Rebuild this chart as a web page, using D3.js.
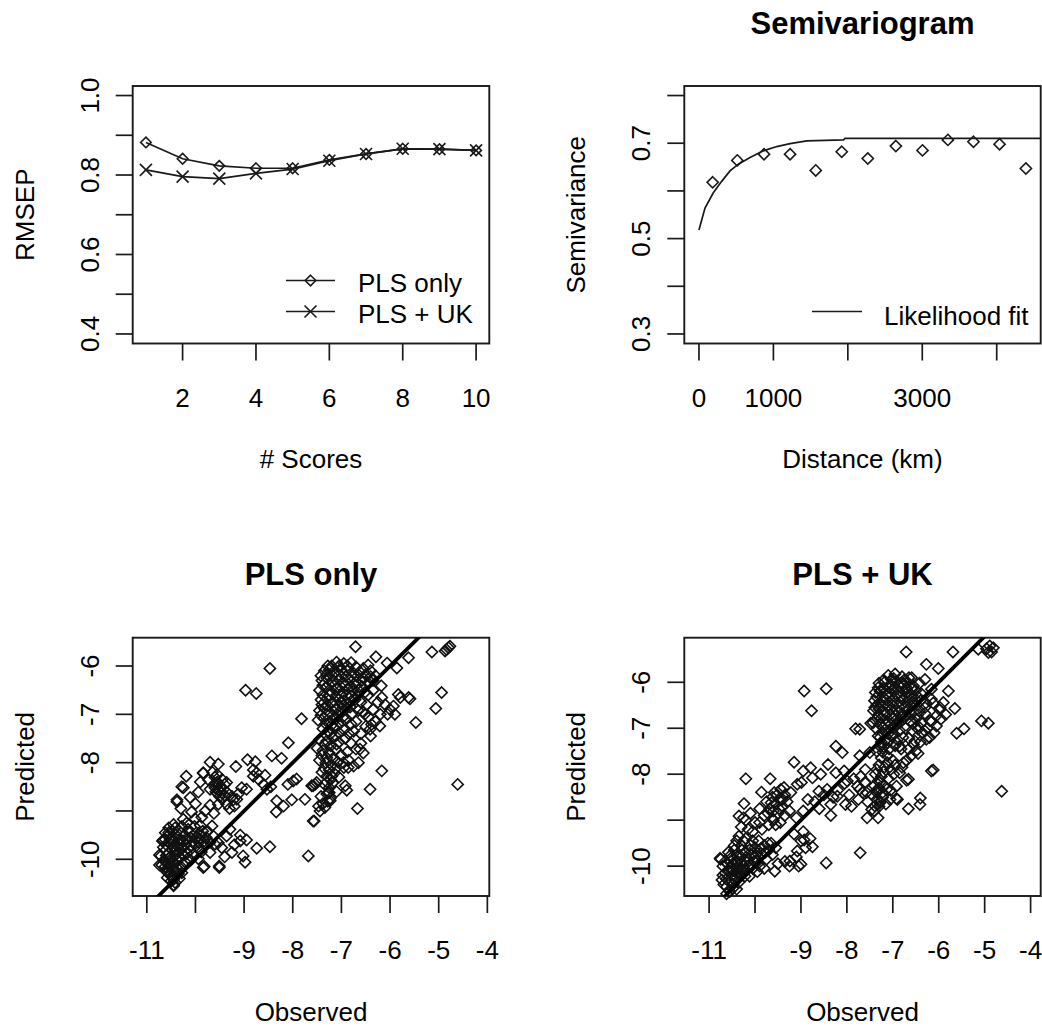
<!DOCTYPE html>
<html><head><meta charset="utf-8">
<script src="https://cdn.jsdelivr.net/npm/d3@7"></script>
<style>
html,body{margin:0;padding:0;background:#fff;}
svg{display:block;}
text{font-family:"Liberation Sans", Arial, sans-serif; fill:#000;}
</style></head><body>
<svg id="chart" width="1042" height="1027"></svg>
<script>
// ---------------- DATA ----------------
// Panel 1: RMSEP vs number of PLS scores
const scoreCount = [1,2,3,4,5,6,7,8,9,10];
const rmsepPlsOnly = [0.882,0.841,0.823,0.817,0.817,0.838,0.853,0.866,0.865,0.862];
const rmsepPlsUK   = [0.813,0.796,0.791,0.804,0.815,0.836,0.853,0.866,0.865,0.862];
const p1XTicks = [2,4,6,8,10];
const p1XTickLabels = ["2","4","6","8","10"];
const p1YTicks = [0.4,0.5,0.6,0.7,0.8,0.9,1.0];
const p1YTickLabels = ["0.4","","0.6","","0.8","","1.0"];
const p1Legend = ["PLS only","PLS + UK"];

// Panel 2: empirical semivariogram + likelihood fit
const semiDistance = [184,515,874,1224,1569,1918,2268,2645,3003,3344,3688,4038,4392];
const semiGamma    = [0.618,0.664,0.677,0.677,0.643,0.682,0.668,0.694,0.685,0.707,0.703,0.698,0.647];
const fitDistance  = [0,81,193,305,417,529,686,865,1045,1224,1448,1941,1963,4591];
const fitGamma     = [0.518,0.564,0.596,0.620,0.642,0.656,0.670,0.684,0.693,0.699,0.705,0.707,0.710,0.710];
const p2XTicks = [0,1000,2000,3000,4000];
const p2XTickLabels = ["0","1000","","3000",""];
const p2YTicks = [0.3,0.4,0.5,0.6,0.7,0.8];
const p2YTickLabels = ["0.3","","0.5","","0.7",""];
const p2Legend = ["Likelihood fit"];

// Panels 3 & 4: observed vs predicted
const obsTicks = [-11,-10,-9,-8,-7,-6,-5,-4];
const obsTickLabels = ["-11","","-9","-8","-7","-6","-5","-4"];
const predTicks = [-10,-9,-8,-7,-6];
const predTickLabels = ["-10","","-8","-7","-6"];

const plsOnlyPoints = [
[-10.45,-9.28],[-10.62,-9.59],[-10.71,-9.93],[-10.69,-10.12],[-10.60,-10.24],[-10.45,-10.55],[-10.33,-10.40],[-10.25,-9.17],[-10.08,-9.02],[-10.01,-9.16],[-9.87,-9.13],[-9.66,-9.31],[-9.63,-9.52],[-9.53,-9.66],[-9.70,-9.86],[-9.82,-10.15],[-9.51,-10.14],[-9.94,-9.99],
[-10.55,-9.45],[-10.50,-9.55],[-10.40,-9.50],[-10.35,-9.40],[-10.60,-9.70],[-10.52,-9.68],[-10.45,-9.62],[-10.38,-9.72],[-10.30,-9.60],[-10.22,-9.50],[-10.15,-9.38],[-10.10,-9.55],[-10.05,-9.65],[-9.98,-9.45],[-9.92,-9.58],[-9.85,-9.42],[-9.78,-9.55],[-10.62,-9.82],[-10.55,-9.88],[-10.48,-9.80],[-10.42,-9.92],[-10.35,-9.85],[-10.28,-9.78],[-10.20,-9.70],[-10.12,-9.82],[-10.05,-9.90],[-9.95,-9.75],[-9.88,-9.85],[-10.65,-10.02],[-10.58,-10.08],[-10.50,-10.00],[-10.43,-10.10],[-10.36,-10.02],[-10.30,-10.15],[-10.22,-10.05],[-10.15,-9.98],[-10.55,-10.25],[-10.48,-10.35],[-10.40,-10.25],[-10.35,-10.30],[-10.50,-10.45],[-10.42,-10.48],[-10.58,-10.38],[-10.66,-9.75],[-10.68,-9.62],[-10.57,-9.52],[-10.47,-9.42],[-10.28,-9.32],[-10.18,-9.25],[-10.02,-9.32],[-9.90,-9.30],[-9.75,-9.42],[-9.70,-9.65],[-9.80,-9.70],[-10.74,-9.91],[-10.74,-10.12],[-10.59,-10.26],[-10.45,-10.53],[-10.66,-9.60],
[-10.52,-9.60],[-10.45,-9.72],[-10.40,-9.82],[-10.32,-9.70],[-10.25,-9.62],[-10.18,-9.58],[-10.08,-9.72],[-10.00,-9.68],[-9.93,-9.65],[-10.60,-9.92],[-10.52,-9.96],[-10.46,-10.05],[-10.40,-10.00],[-10.32,-9.95],[-10.25,-9.90],[-10.18,-9.88],[-10.10,-10.02],[-10.62,-10.15],[-10.53,-10.15],[-10.45,-10.22],[-10.38,-10.18],[-10.28,-10.28],[-10.52,-10.32],[-10.45,-10.42],[-10.62,-9.45],[-10.55,-9.35],[-10.42,-9.35],[-10.35,-9.60],[-10.12,-9.45],[-9.98,-9.55],[-9.88,-9.50],[-9.82,-9.62],
[-9.08,-9.50],[-9.08,-9.62],[-8.95,-9.60],[-8.74,-9.77],[-8.47,-9.74],[-9.25,-9.86],[-9.02,-9.93],[-8.98,-10.06],[-9.29,-9.38],[-9.36,-9.52],[-9.46,-9.76],[-9.60,-9.69],[-9.40,-9.95],[-9.20,-9.70],[-9.84,-10.17],[-9.51,-10.17],
[-10.19,-8.28],[-9.84,-8.21],[-10.25,-8.52],[-10.38,-8.77],[-10.11,-8.72],[-9.94,-8.61],[-9.70,-8.55],[-9.53,-8.45],[-9.36,-8.41],[-9.46,-8.62],[-9.53,-8.86],[-9.70,-8.88],[-9.36,-8.86],[-9.15,-8.76],[-9.05,-8.52],[-8.95,-8.55],[-9.12,-8.65],[-9.70,-7.99],[-9.53,-8.03],[-9.17,-8.08],[-8.93,-7.94],[-8.81,-8.28],[-8.74,-8.21],[-8.57,-8.26],[-8.53,-8.55],[-8.60,-8.45],[-9.60,-8.30],[-9.55,-8.40],[-9.48,-8.50],[-9.62,-8.45],[-9.42,-8.55],[-9.50,-8.70],[-9.58,-8.60],[-9.65,-8.20],[-9.45,-8.35],[-9.40,-8.68],[-9.25,-8.70],[-9.20,-8.90],[-9.30,-8.95],[-9.62,-9.05],[-9.80,-9.00],[-10.00,-8.85],[-10.30,-8.95],[-9.90,-8.40],[-8.77,-7.98],[-8.81,-8.15],[-9.84,-8.22],[-9.73,-8.36],[-9.49,-8.50],[-9.56,-8.63],[-9.22,-8.77],[-10.28,-8.50],[-10.38,-8.81],
[-9.55,-8.25],[-9.50,-8.60],[-9.40,-8.45],[-9.60,-8.52],[-9.35,-8.62],[-9.45,-8.75],
[-8.33,-8.79],[-8.19,-8.90],[-8.02,-8.77],[-7.99,-8.38],[-7.92,-8.34],[-8.34,-9.02],[-7.61,-8.48],[-7.54,-8.45],[-7.75,-8.76],[-7.58,-9.21],[-7.47,-8.90],[-8.43,-7.86],[-8.23,-7.91],[-8.09,-7.59],[-7.82,-7.09],[-8.47,-6.05],[-8.97,-6.50],[-8.75,-6.57],[-7.68,-9.93],[-8.70,-8.35],[-8.45,-8.50],[-8.10,-8.45],
[-6.71,-5.60],[-6.29,-5.81],[-6.06,-5.94],[-5.86,-6.04],[-5.62,-5.83],[-5.14,-5.71],[-4.87,-5.69],[-4.84,-5.66],[-4.80,-5.62],[-4.77,-5.59],[-4.94,-6.55],[-5.06,-6.88],[-5.47,-7.17],[-4.61,-8.45],[-6.17,-8.17],[-6.41,-8.55],[-6.67,-8.95],[-6.92,-8.48],[-6.89,-8.57],[-7.56,-9.21],[-7.44,-9.00],[-7.34,-8.93],[-7.23,-8.79],[-6.18,-6.41],[-6.17,-6.65],[-5.83,-6.59],[-5.79,-6.65],[-5.62,-6.65],[-5.59,-6.68],[-5.93,-6.83],[-6.00,-6.90],[-5.90,-7.00],[-6.21,-7.24],[-6.41,-7.31],[-6.38,-7.21],[-6.62,-7.72],[-6.65,-8.00],[-6.86,-8.10],[-6.96,-8.00],[-6.75,-8.07],[-7.58,-8.48],[-7.51,-8.41],[-7.27,-8.63],[-7.23,-8.74],
[-7.10,-5.92],[-6.95,-5.95],[-6.80,-5.93],[-7.20,-6.00],[-6.70,-6.02],
[-7.35,-6.10],[-7.25,-6.08],[-7.12,-6.12],[-7.00,-6.08],[-6.88,-6.10],[-6.75,-6.15],[-6.62,-6.12],[-6.50,-6.18],[-6.40,-6.22],
[-7.40,-6.30],[-7.30,-6.25],[-7.18,-6.32],[-7.05,-6.28],[-6.95,-6.35],[-6.82,-6.28],[-6.70,-6.33],[-6.58,-6.30],[-6.45,-6.35],[-6.35,-6.30],
[-7.45,-6.50],[-7.32,-6.45],[-7.22,-6.52],[-7.10,-6.48],[-6.98,-6.55],[-6.88,-6.48],[-6.76,-6.52],[-6.65,-6.50],[-6.52,-6.55],
[-7.42,-6.70],[-7.30,-6.68],[-7.18,-6.75],[-7.06,-6.70],[-6.95,-6.72],[-6.85,-6.78],[-6.72,-6.70],[-6.60,-6.75],[-6.48,-6.80],
[-7.45,-6.92],[-7.35,-6.88],[-7.25,-6.95],[-7.12,-6.90],[-7.00,-6.95],[-6.90,-6.88],[-6.78,-6.98],[-6.65,-6.92],[-6.52,-7.00],
[-7.48,-7.12],[-7.36,-7.08],[-7.24,-7.15],[-7.12,-7.10],[-7.02,-7.18],[-6.92,-7.12],[-6.80,-7.20],[-6.70,-7.15],
[-7.38,-7.30],[-7.28,-7.35],[-7.15,-7.28],[-7.05,-7.38],[-6.95,-7.32],[-6.85,-7.40],[-6.75,-7.35],
[-7.45,-7.52],[-7.30,-7.55],[-7.18,-7.48],[-7.05,-7.58],[-6.92,-7.50],[-6.80,-7.60],
[-7.28,-6.00],[-7.05,-6.00],[-6.88,-6.00],[-7.42,-6.20],[-7.30,-6.18],[-7.18,-6.20],[-7.05,-6.18],[-6.92,-6.22],[-6.80,-6.20],[-6.68,-6.22],[-6.55,-6.25],[-7.38,-6.40],[-7.26,-6.38],[-7.15,-6.40],[-7.02,-6.42],[-6.92,-6.40],[-6.80,-6.42],[-6.70,-6.40],[-6.58,-6.42],[-7.38,-6.60],[-7.25,-6.60],[-7.12,-6.62],[-7.00,-6.62],[-6.90,-6.60],[-6.80,-6.62],[-6.68,-6.62],[-7.40,-6.80],[-7.28,-6.82],[-7.15,-6.82],[-7.05,-6.82],[-6.95,-6.82],[-6.82,-6.85],[-7.42,-7.02],[-7.30,-7.00],[-7.18,-7.02],[-7.06,-7.02],[-6.96,-7.05],[-7.32,-7.20],[-7.20,-7.22],[-7.10,-7.25],[-7.32,-7.42],[-7.22,-7.40],[-7.12,-7.45],
[-7.50,-7.70],[-7.38,-7.75],[-7.25,-7.80],[-7.12,-7.72],[-7.00,-7.85],[-6.88,-7.78],[-7.45,-7.95],[-7.32,-8.00],[-7.20,-8.05],[-7.08,-7.98],[-6.95,-8.10],[-7.40,-8.20],[-7.30,-8.28],[-7.22,-8.35],[-7.15,-8.22],[-7.05,-8.30],[-7.35,-8.45],[-7.25,-8.52],[-7.18,-8.42],[-7.10,-8.60],[-7.30,-8.65],[-7.42,-8.70],[-7.38,-8.85],[-7.28,-8.80],
[-7.35,-7.62],[-7.22,-7.65],[-7.10,-7.62],[-7.40,-7.85],[-7.30,-7.90],[-7.18,-7.92],[-7.35,-8.12],[-7.25,-8.15],[-7.12,-8.12],[-7.30,-8.40],[-7.20,-8.28],[-7.25,-8.62],
[-6.55,-6.95],[-6.45,-7.05],[-6.35,-6.90],[-6.30,-7.15],[-6.50,-7.25],[-6.60,-7.40],[-6.40,-7.45],[-6.25,-6.75],[-6.10,-6.80],[-6.05,-7.00],[-6.20,-7.00],[-6.45,-6.60],[-6.35,-6.50],[-6.60,-7.60],[-6.70,-7.72],[-6.55,-7.80],[-6.85,-7.95],
[-6.55,-6.05],[-6.40,-6.10],[-6.30,-6.20],[-6.45,-5.98]
];

const plsUKPoints = [
[-8.93,-6.19],[-8.45,-6.14],[-8.77,-6.62],[-7.81,-7.01],[-7.48,-6.89],[-8.24,-7.39],[-8.10,-7.53],[-9.15,-7.74],[-8.95,-7.93],[-8.79,-7.86],[-8.75,-8.08],[-8.57,-8.00],[-8.41,-7.79],[-10.20,-8.10],[-9.67,-8.10],[-9.86,-8.39],[-10.24,-8.64],[-7.71,-9.71],[-8.45,-9.93],[-9.00,-9.96],[-9.24,-9.89],[-9.44,-8.33],[-9.37,-8.29],[-9.22,-8.40],[-9.08,-8.22],[-8.99,-8.18],[-8.24,-7.97],[-8.06,-7.93],[-7.99,-8.15],[-7.77,-8.26],[-7.59,-8.18],[-8.61,-8.37],[-8.43,-8.33],[-8.21,-8.48],[-8.35,-8.66],[-8.03,-8.66],[-8.35,-8.90],[-8.75,-9.58],[-8.93,-9.43],[-9.08,-9.67],[-9.57,-10.11],[-10.35,-8.91],[-10.20,-9.00],[-10.76,-9.83],
[-10.75,-9.85],[-10.70,-10.00],[-10.65,-10.15],[-10.72,-10.30],[-10.62,-10.45],[-10.55,-10.55],[-10.48,-10.40],[-10.60,-9.95],[-10.55,-10.05],[-10.50,-10.20],[-10.45,-10.30],[-10.40,-10.15],[-10.35,-10.05],[-10.30,-10.20],[-10.42,-9.90],[-10.50,-9.80],[-10.58,-9.70],[-10.45,-9.65],[-10.38,-9.78],[-10.30,-9.90],[-10.25,-10.00],[-10.20,-10.10],[-10.15,-9.85],[-10.10,-9.95],[-10.05,-10.05],[-10.00,-9.80],[-9.95,-9.90],[-9.90,-10.00],[-9.85,-9.75],[-10.22,-9.70],[-10.30,-9.55],[-10.40,-9.45],[-10.35,-9.35],[-10.20,-9.40],[-10.10,-9.55],[-10.00,-9.60],[-9.92,-9.45],[-9.80,-9.55],[-9.75,-9.85],[-9.70,-9.65],[-9.62,-9.75],[-9.65,-9.50],[-9.55,-9.60],[-10.62,-10.60],[-10.40,-10.50],[-10.35,-10.35],[-9.95,-10.12],[-9.80,-10.05],[-10.12,-10.22],[-10.68,-10.40],[-10.52,-9.90],[-10.28,-9.65],
[-10.62,-10.28],[-10.55,-10.35],[-10.48,-10.48],[-10.58,-10.12],[-10.48,-10.10],[-10.42,-10.22],[-10.35,-10.15],[-10.28,-10.08],[-10.22,-10.22],[-10.40,-10.05],[-10.48,-9.95],[-10.38,-9.90],[-10.30,-9.80],[-10.22,-9.88],[-10.15,-10.00],[-10.08,-9.75],[-10.02,-9.90],[-9.95,-9.72],[-9.88,-9.62],[-9.78,-9.70],[-9.72,-9.50],[-10.12,-9.65],[-10.05,-9.45],[-10.25,-9.45],[-10.65,-9.90],[-10.70,-10.20],[-10.55,-9.78],[-10.45,-9.55],
[-10.25,-8.95],[-10.10,-8.85],[-10.00,-9.05],[-9.90,-8.75],[-9.80,-8.90],[-9.75,-8.60],[-9.68,-8.75],[-9.62,-8.50],[-9.55,-8.65],[-9.50,-8.85],[-9.58,-8.40],[-9.45,-8.55],[-9.40,-8.70],[-9.35,-8.45],[-9.30,-8.60],[-9.25,-8.80],[-9.70,-9.10],[-9.60,-9.00],[-9.45,-9.05],[-10.15,-9.20],[-10.30,-9.15],[-9.85,-9.20],
[-9.65,-8.62],[-9.60,-8.80],[-9.52,-8.45],[-9.48,-8.75],[-9.40,-8.55],[-9.72,-8.85],[-9.35,-8.90],[-9.55,-9.10],[-9.90,-9.05],[-10.05,-9.25],
[-9.15,-9.30],[-9.00,-9.45],[-8.90,-9.60],[-9.10,-9.80],[-9.35,-9.90],[-9.50,-9.95],[-9.25,-10.00],[-9.05,-10.00],[-8.95,-9.25],[-8.80,-9.40],
[-9.10,-8.95],[-8.95,-8.80],[-8.85,-8.55],[-8.70,-8.60],[-8.60,-8.75],[-8.50,-8.45],[-8.30,-8.50],[-8.20,-8.35],[-8.05,-8.20],[-7.95,-8.45],[-7.85,-8.10],[-7.70,-8.05],[-7.60,-7.90],[-7.65,-8.40],[-7.75,-8.55],[-7.90,-8.70],[-7.55,-8.60],
[-6.71,-5.34],[-5.69,-5.34],[-6.27,-5.61],[-6.01,-5.70],[-5.14,-5.28],[-4.96,-5.27],[-4.89,-5.21],[-4.81,-5.25],[-4.85,-5.34],[-4.92,-5.35],[-5.79,-6.19],[-5.65,-6.57],[-5.07,-6.84],[-4.92,-6.89],[-5.61,-7.11],[-5.45,-7.01],[-4.63,-8.37],[-6.16,-7.93],[-6.41,-8.66],[-6.66,-8.75],[-7.56,-8.95],[-7.32,-8.95],[-7.46,-8.77],[-6.92,-8.53],[-6.70,-8.13],[-6.40,-8.52],[-6.45,-7.55],[-6.12,-7.91],
[-7.28,-6.19],[-7.03,-5.94],[-6.81,-6.01],[-6.59,-5.90],[-6.30,-5.94],[-6.16,-6.15],[-7.39,-6.55],[-7.43,-6.88],[-7.32,-7.17],[-6.16,-6.37],[-5.90,-6.44],[-5.97,-6.55],[-6.05,-6.73],[-6.19,-6.84],[-6.30,-7.06],[-6.27,-7.24],[-6.66,-7.46],[-6.85,-7.39],[-6.77,-7.75],[-6.85,-7.97],[-6.66,-8.11],[-6.92,-8.26],[-7.13,-8.33],[-7.28,-8.18],[-7.35,-7.90],[-7.61,-8.18],[-7.57,-8.40],[-7.35,-8.40],[-7.28,-8.62],[-7.39,-8.69],[-7.06,-8.55],[-6.90,-8.55],[-7.72,-8.33],[-7.72,-7.02],[-7.72,-7.60],[-7.50,-7.53],[-7.28,-7.39],
[-7.10,-5.85],[-6.95,-5.82],[-6.80,-5.88],[-6.65,-5.90],
[-7.30,-6.02],[-7.18,-6.00],[-7.05,-6.05],[-6.92,-5.98],[-6.80,-6.05],[-6.68,-6.00],[-6.55,-6.08],[-6.42,-6.02],
[-7.38,-6.22],[-7.25,-6.18],[-7.12,-6.25],[-7.00,-6.18],[-6.88,-6.22],[-6.75,-6.20],[-6.62,-6.25],[-6.50,-6.18],[-6.38,-6.25],
[-7.40,-6.40],[-7.28,-6.45],[-7.15,-6.38],[-7.02,-6.42],[-6.90,-6.45],[-6.78,-6.38],[-6.65,-6.42],[-6.52,-6.45],[-6.40,-6.40],[-6.28,-6.45],
[-7.42,-6.62],[-7.30,-6.58],[-7.18,-6.65],[-7.05,-6.60],[-6.92,-6.62],[-6.80,-6.68],[-6.68,-6.60],[-6.55,-6.65],[-6.42,-6.62],[-6.30,-6.68],
[-7.38,-6.82],[-7.25,-6.78],[-7.12,-6.85],[-7.00,-6.80],[-6.88,-6.85],[-6.75,-6.78],[-6.62,-6.85],[-6.50,-6.80],[-6.38,-6.88],
[-7.35,-7.02],[-7.22,-6.98],[-7.10,-7.05],[-6.98,-7.00],[-6.85,-7.05],[-6.72,-7.00],[-6.58,-7.05],[-6.45,-7.02],
[-7.28,-7.20],[-7.15,-7.25],[-7.02,-7.18],[-6.90,-7.25],[-6.78,-7.20],[-6.65,-7.22],[-6.52,-7.28],
[-7.20,-7.40],[-7.08,-7.45],[-6.95,-7.38],[-6.82,-7.45],
[-7.20,-5.95],[-6.98,-5.92],[-6.75,-5.95],[-7.32,-6.12],[-7.20,-6.12],[-7.08,-6.12],[-6.95,-6.10],[-6.82,-6.12],[-6.70,-6.12],[-6.58,-6.15],[-7.35,-6.32],[-7.22,-6.32],[-7.08,-6.32],[-6.95,-6.32],[-6.82,-6.30],[-6.70,-6.32],[-6.58,-6.35],[-6.45,-6.32],[-7.35,-6.50],[-7.22,-6.52],[-7.10,-6.50],[-6.98,-6.52],[-6.85,-6.55],[-6.72,-6.52],[-6.60,-6.52],[-7.32,-6.72],[-7.18,-6.72],[-7.06,-6.70],[-6.95,-6.72],[-6.82,-6.75],[-6.70,-6.72],[-7.28,-6.90],[-7.15,-6.92],[-7.05,-6.92],[-6.92,-6.92],[-7.22,-7.10],[-7.10,-7.12],[-6.98,-7.12],[-7.25,-7.30],[-7.12,-7.32],[-7.35,-7.50],[-7.22,-7.52],
[-7.25,-7.65],[-7.12,-7.60],[-7.00,-7.70],[-7.30,-7.80],[-7.18,-7.85],[-7.05,-7.90],[-6.95,-7.80],[-7.38,-8.00],[-7.25,-8.05],[-7.10,-8.10],[-6.98,-8.00],[-7.40,-8.25],[-7.30,-8.30],[-7.18,-8.25],[-7.05,-8.35],[-7.45,-8.45],[-7.35,-8.55],[-7.22,-8.50],[-7.15,-8.65],[-7.40,-8.80],[-7.30,-8.70],
[-7.20,-7.95],[-7.32,-8.15],[-7.22,-8.40],[-7.35,-8.35],[-7.28,-8.60],[-7.12,-7.75],
[-6.55,-6.90],[-6.45,-6.95],[-6.35,-7.10],[-6.25,-7.00],[-6.15,-6.85],[-6.05,-6.95],[-5.95,-6.80],[-5.85,-6.70],[-6.20,-7.20],[-6.40,-7.30],[-6.55,-7.35],[-6.10,-7.10],[-5.98,-6.60],[-6.12,-6.45],[-6.30,-6.55],[-6.45,-6.70],[-6.60,-7.60],[-6.50,-7.50],[-6.70,-7.70],[-6.80,-7.85]
];

// ---------------- DRAWING ----------------
const svg = d3.select("#chart");
const FS = 26;           // base font size
const INK = "#1a1a1a";
const diamond = r => `M0,${-r}L${r},0L0,${r}L${-r},0Z`;
const cross = r => `M${-r},${-r}L${r},${r}M${-r},${r}L${r},${-r}`;

function frame(box, x, y, opt) {
  const g = svg.append("g");
  opt.xTicks.forEach((t, i) => {
    const px = x(t);
    g.append("line").attr("x1", px).attr("x2", px).attr("y1", box.b).attr("y2", box.b + 17)
      .attr("stroke", INK).attr("stroke-width", 1.7);
    if (opt.xLabels[i]) g.append("text").attr("x", px).attr("y", box.b + 63)
      .attr("text-anchor", "middle").attr("font-size", FS).text(opt.xLabels[i]);
  });
  opt.yTicks.forEach((t, i) => {
    const py = y(t);
    g.append("line").attr("x1", box.l - 17).attr("x2", box.l).attr("y1", py).attr("y2", py)
      .attr("stroke", INK).attr("stroke-width", 1.7);
    if (opt.yLabels[i]) g.append("text").attr("transform", `translate(${box.l - 34},${py}) rotate(-90)`)
      .attr("text-anchor", "middle").attr("font-size", FS).text(opt.yLabels[i]);
  });
  g.append("rect").attr("x", box.l).attr("y", box.t).attr("width", box.r - box.l).attr("height", box.b - box.t)
    .attr("fill", "none").attr("stroke", INK).attr("stroke-width", 1.9);
  g.append("text").attr("x", (box.l + box.r) / 2).attr("y", box.b + 124.5)
    .attr("text-anchor", "middle").attr("font-size", FS).text(opt.xTitle);
  g.append("text").attr("transform", `translate(${box.l - 99},${(box.t + box.b) / 2}) rotate(-90)`)
    .attr("text-anchor", "middle").attr("font-size", FS).text(opt.yTitle);
  if (opt.title) g.append("text").attr("x", (box.l + box.r) / 2).attr("y", box.t - 52.5)
    .attr("text-anchor", "middle").attr("font-size", 31).attr("font-weight", "bold").text(opt.title);
  return g;
}

function clipFor(id, box) {
  svg.append("clipPath").attr("id", id).append("rect")
    .attr("x", box.l).attr("y", box.t).attr("width", box.r - box.l).attr("height", box.b - box.t);
  return `url(#${id})`;
}

// ---- Panel 1 ----
{
  const box = {l: 132.7, r: 489.3, t: 86, b: 343.5};
  const x = d3.scaleLinear().domain([0.64, 10.36]).range([box.l, box.r]);
  const y = d3.scaleLinear().domain([0.376, 1.024]).range([box.b, box.t]);
  frame(box, x, y, {xTicks: p1XTicks, xLabels: p1XTickLabels, yTicks: p1YTicks, yLabels: p1YTickLabels,
    xTitle: "# Scores", yTitle: "RMSEP"});
  const line = d3.line().x((d, i) => x(scoreCount[i])).y(d => y(d));
  [rmsepPlsOnly, rmsepPlsUK].forEach((s, k) => {
    svg.append("path").attr("d", line(s)).attr("fill", "none").attr("stroke", INK).attr("stroke-width", 1.7);
    svg.append("g").selectAll("path").data(s).join("path")
      .attr("transform", (d, i) => `translate(${x(scoreCount[i])},${y(d)})`)
      .attr("d", k === 0 ? diamond(5.3) : cross(6))
      .attr("fill", "none").attr("stroke", INK).attr("stroke-width", 1.6);
  });
  const ly = [280.5, 311.5];
  p1Legend.forEach((lab, k) => {
    svg.append("line").attr("x1", 286).attr("x2", 335).attr("y1", ly[k]).attr("y2", ly[k])
      .attr("stroke", INK).attr("stroke-width", 1.7);
    svg.append("path").attr("transform", `translate(310.5,${ly[k]})`).attr("d", k === 0 ? diamond(5.3) : cross(6))
      .attr("fill", "none").attr("stroke", INK).attr("stroke-width", 1.6);
    svg.append("text").attr("x", 358).attr("y", ly[k] + 11.5).attr("font-size", FS).text(lab);
  });
}

// ---- Panel 2 ----
{
  const box = {l: 684.3, r: 1040.7, t: 86, b: 343.5};
  const x = d3.scaleLinear().domain([-197, 4591]).range([box.l, box.r]);
  const y = d3.scaleLinear().domain([0.28, 0.82]).range([box.b, box.t]);
  frame(box, x, y, {xTicks: p2XTicks, xLabels: p2XTickLabels, yTicks: p2YTicks, yLabels: p2YTickLabels,
    xTitle: "Distance (km)", yTitle: "Semivariance", title: "Semivariogram"});
  const clip = clipFor("clip2", box);
  const line = d3.line().x((d, i) => x(fitDistance[i])).y(d => y(d));
  svg.append("path").attr("d", line(fitGamma)).attr("clip-path", clip)
    .attr("fill", "none").attr("stroke", INK).attr("stroke-width", 1.7);
  svg.append("g").selectAll("path").data(semiGamma).join("path")
    .attr("transform", (d, i) => `translate(${x(semiDistance[i])},${y(d)})`)
    .attr("d", diamond(5.6)).attr("fill", "none").attr("stroke", INK).attr("stroke-width", 1.6);
  svg.append("line").attr("x1", 812).attr("x2", 862).attr("y1", 311.5).attr("y2", 311.5)
    .attr("stroke", INK).attr("stroke-width", 1.7);
  svg.append("text").attr("x", 884).attr("y", 324.5).attr("font-size", FS).text(p2Legend[0]);
}

// ---- Panels 3 & 4 ----
function scatterPanel(box, xd, yd, pts, title, id) {
  const x = d3.scaleLinear().domain(xd).range([box.l, box.r]);
  const y = d3.scaleLinear().domain(yd).range([box.b, box.t]);
  frame(box, x, y, {xTicks: obsTicks, xLabels: obsTickLabels, yTicks: predTicks, yLabels: predTickLabels,
    xTitle: "Observed", yTitle: "Predicted", title: title});
  svg.append("g").selectAll("path").data(pts).join("path")
    .attr("transform", d => `translate(${x(d[0])},${y(d[1])})`)
    .attr("d", diamond(5.6)).attr("fill", "none").attr("stroke", "#111").attr("stroke-width", 1.6);
  const clip = clipFor(id, box);
  const lo = Math.min(xd[0], yd[0]), hi = Math.max(xd[1], yd[1]);
  svg.append("line").attr("clip-path", clip)
    .attr("x1", x(lo)).attr("y1", y(lo)).attr("x2", x(hi)).attr("y2", y(hi))
    .attr("stroke", "#000").attr("stroke-width", 3.8);
}
scatterPanel({l: 132.7, r: 489.3, t: 637.7, b: 896}, [-11.29, -3.96], [-10.76, -5.414], plsOnlyPoints, "PLS only", "clip3");
scatterPanel({l: 684.3, r: 1040.7, t: 637.7, b: 896}, [-11.54, -3.78], [-10.65, -5.03], plsUKPoints, "PLS + UK", "clip4");
</script>
</body></html>
